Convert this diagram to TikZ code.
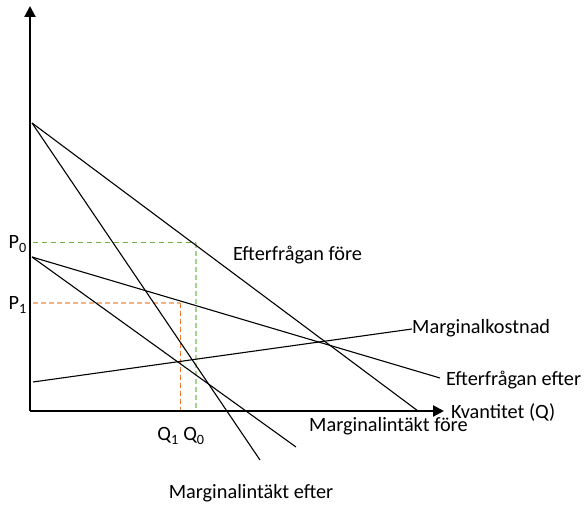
\documentclass[tikz,border=0pt]{standalone}
\usepackage{fontspec}
\setmainfont{Carlito}
\usetikzlibrary{arrows.meta}
\definecolor{lgreen}{RGB}{169,209,142}
\definecolor{dgreen}{RGB}{112,173,71}
\definecolor{lorange}{RGB}{244,177,131}
\definecolor{dorange}{RGB}{237,125,49}
\begin{document}
\begin{tikzpicture}[x=1pt,y=-1pt,
  curve/.style={line width=1.1pt,black},
  axisline/.style={line width=2.2pt,black,-{Triangle[length=11pt,width=11pt]}},
  lbl/.style={inner sep=0pt,font=\fontsize{20.3}{23}\selectfont}]
\useasboundingbox (0,0) rectangle (584,505);
% coordinates
\coordinate (O) at (30,411);
\coordinate (ytop) at (30,6);
\coordinate (xend) at (444,411);
\coordinate (A) at (32,123);
\coordinate (B) at (32,257);
\coordinate (DfEnd) at (418,411);
\coordinate (MReEnd) at (260,460);
\coordinate (DeEnd) at (440,378);
\coordinate (MRfEnd) at (296,447);
\coordinate (MCa) at (33,382);
\coordinate (MCb) at (412,329);
\coordinate (p0l) at (33,243);
\coordinate (p0r) at (196,243);
\coordinate (q0) at (196,411);
\coordinate (p1l) at (33,303);
\coordinate (p1r) at (180,303);
\coordinate (q1) at (180,411);
% dashed guides
\draw[dgreen,line width=1pt,dash pattern=on 5pt off 4pt] (p0l) -- (p0r);
\draw[lgreen,line width=2.4pt,dash pattern=on 5pt off 3pt] (p0r) -- (q0);
\draw[lorange,line width=2.4pt,dash pattern=on 5pt off 3pt] (p1l) -- (p1r);
\draw[dorange,line width=1pt,dash pattern=on 5pt off 3pt] (p1r) -- (q1);
% curves
\draw[curve] (A) -- (DfEnd);
\draw[curve] (A) -- (MReEnd);
\draw[curve] (B) -- (DeEnd);
\draw[curve] (B) -- (MRfEnd);
\draw[curve] (MCa) -- (MCb);
% axes
\draw[axisline] (O) -- (ytop);
\draw[axisline] (O) -- (xend);
% labels
\node[lbl,anchor=east] (P0) at (27,244) {P\textsubscript{0}};
\node[lbl,anchor=east] (P1) at (27,305) {P\textsubscript{1}};
\node[lbl] (Q) at (181,436) {Q\textsubscript{1} Q\textsubscript{0}};
\node[lbl,anchor=west] (Df) at (233,255) {Efterfrågan före};
\node[lbl,anchor=west] (MC) at (412,328) {Marginalkostnad};
\node[lbl,anchor=west] (De) at (446,380) {Efterfrågan efter};
\node[lbl,anchor=west] (Kv) at (451,412) {Kvantitet (Q)};
\node[lbl,anchor=west] (MRf) at (309,426) {Marginalintäkt före};
\node[lbl] (MRe) at (251,493) {Marginalintäkt efter};
\end{tikzpicture}
\end{document}
